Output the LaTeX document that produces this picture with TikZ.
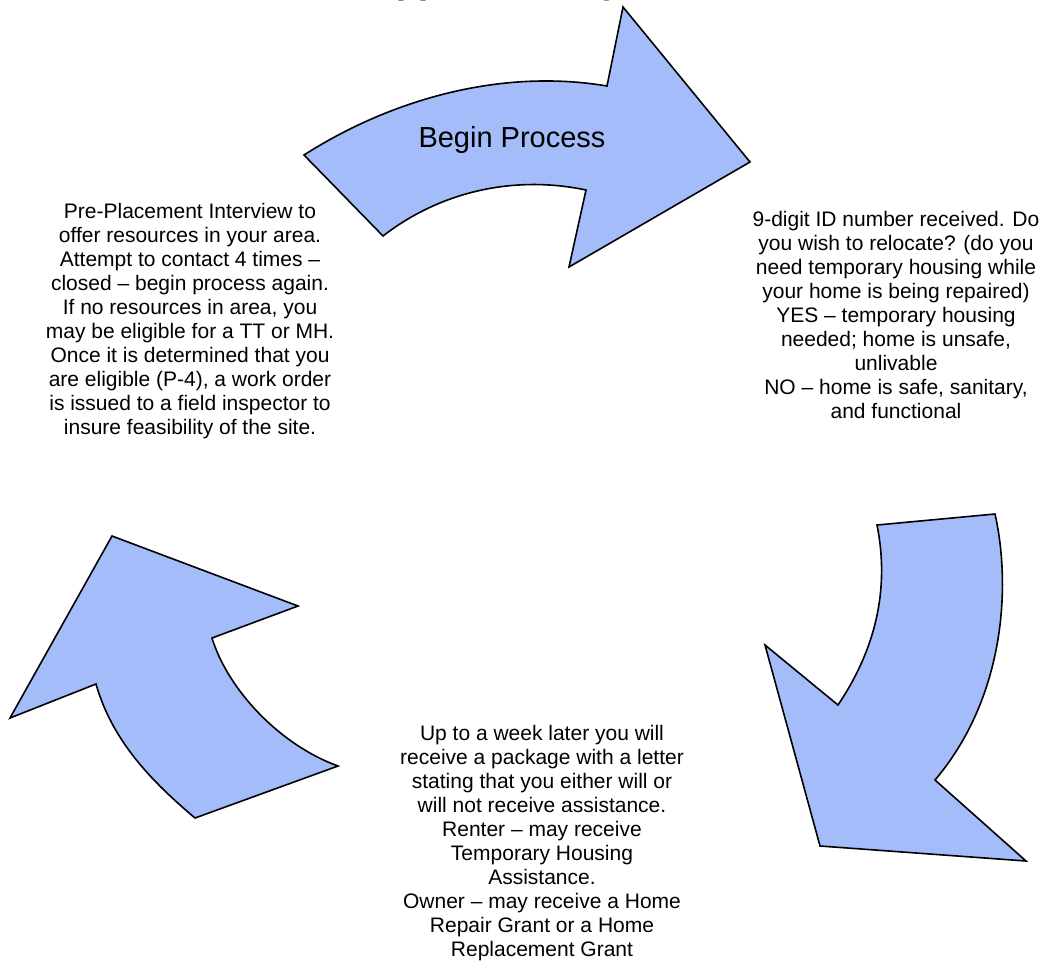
\documentclass[tikz,border=0pt]{standalone}
\usepackage{fontspec}
\setmainfont{Liberation Sans}
\definecolor{arrowfill}{RGB}{165,188,250}
\begin{document}
\begin{tikzpicture}[x=1pt,y=-1pt,
  cyc/.style={fill=arrowfill,draw=black,line width=1.6pt,line join=miter},
  bodytext/.style={align=center,inner sep=0pt,anchor=north,font=\fontsize{21}{24}\selectfont}]
\useasboundingbox (0,0) rectangle (1044,962);
\clip (0,0) rectangle (1044,962);
\fill[white] (0,0) rectangle (1044,962);
% title (cut off at the top)
\node[anchor=base,inner sep=0pt,font=\bfseries\fontsize{36}{40}\selectfont] (title) at (522,-7) {Application Cycle};
% top arrow
\draw[cyc] (304,155) .. controls (390,100) and (500,68) .. (607,86)
  -- (623,7) -- (750,162) -- (569,267) -- (586,190)
  .. controls (520,176) and (445,188) .. (383,236) -- cycle;
% right arrow
\draw[cyc] (877,525) -- (995,514)
  .. controls (1012,590) and (1003,700) .. (935,780)
  -- (1026,861) -- (820,846) -- (765,645) -- (838,705)
  .. controls (875,650) and (890,590) .. (877,525) -- cycle;
% left arrow
\draw[cyc] (112,536) -- (298,606) -- (212,638)
  .. controls (228,690) and (280,745) .. (338,766)
  -- (195,818)
  .. controls (150,780) and (112,740) .. (96,684)
  -- (10,718) -- cycle;
\node[anchor=base,inner sep=0pt,font=\fontsize{29}{33}\selectfont] (begin) at (512,147) {Begin Process};
\node[bodytext] (left) at (190,200) {\rule{0pt}{18pt}Pre-Placement Interview to\\
offer resources in your area.\\
Attempt to contact 4 times --\\
closed -- begin process again.\\
If no resources in area, you\\
may be eligible for a TT or MH.\\
Once it is determined that you\\
are eligible (P-4), a work order\\
is issued to a field inspector to\\
insure feasibility of the site.};
\node[bodytext] (right) at (896,208) {\rule{0pt}{18pt}9-digit ID number received. Do\\
you wish to relocate? (do you\\
need temporary housing while\\
your home is being repaired)\\
YES -- temporary housing\\
needed; home is unsafe,\\
unlivable\\
NO -- home is safe, sanitary,\\
and functional};
\node[bodytext] (bottom) at (542,722) {\rule{0pt}{18pt}Up to a week later you will\\
receive a package with a letter\\
stating that you either will or\\
will not receive assistance.\\
Renter -- may receive\\
Temporary Housing\\
Assistance.\\
Owner -- may receive a Home\\
Repair Grant or a Home\\
Replacement Grant};
\end{tikzpicture}
\end{document}
